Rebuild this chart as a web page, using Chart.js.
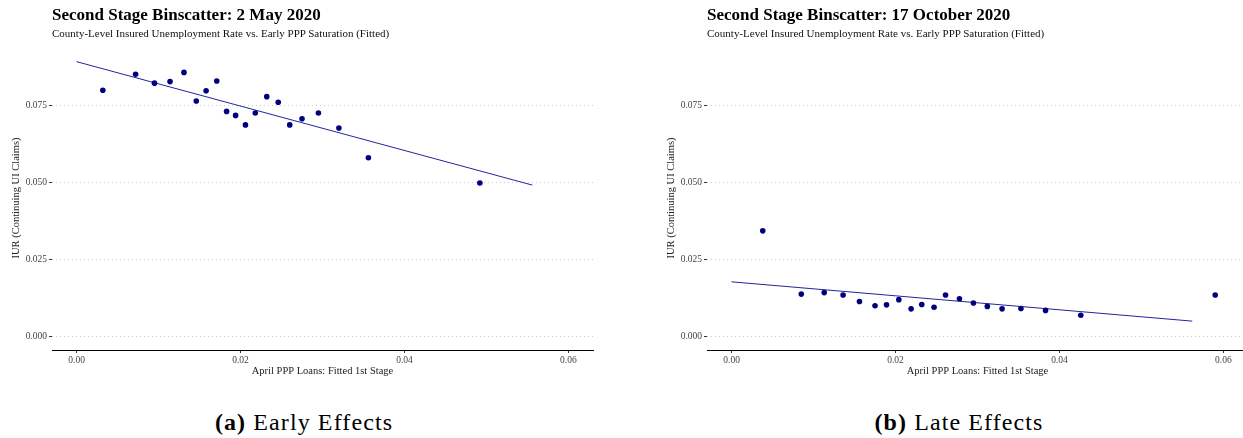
<!DOCTYPE html>
<html lang="en">
<head>
<meta charset="utf-8">
<title>Second Stage Binscatter</title>
<script src="https://cdn.jsdelivr.net/npm/chart.js@4.4.1/dist/chart.umd.min.js"></script>
<style>
  html, body { margin: 0; padding: 0; background: #fff; }
  #page { position: relative; width: 1243px; height: 438px; overflow: hidden; font-family: "Liberation Serif", serif; }
  .panel { position: absolute; top: 0; }
  .panel canvas { position: absolute; left: 0; top: 0; }
  .title { position: absolute; left: 52px; top: 5px; font-size: 17px; font-weight: bold; color: #000; white-space: nowrap; }
  .subtitle { position: absolute; left: 52px; top: 27px; font-size: 11px; color: #111; white-space: nowrap; }
  .caption { position: absolute; top: 409px; font-size: 24px; letter-spacing: 1.1px; color: #000; white-space: nowrap; transform: translateX(-50%); }
  .caption b { font-weight: bold; }
</style>
</head>
<body>
<div id="page">
  <div class="panel" style="left:0px">
    <canvas id="early" width="615" height="385"></canvas>
    <div class="title">Second Stage Binscatter: 2 May 2020</div>
    <div class="subtitle">County-Level Insured Unemployment Rate vs. Early PPP Saturation (Fitted)</div>
  </div>
  <div class="panel" style="left:655px">
    <canvas id="late" width="615" height="385"></canvas>
    <div class="title">Second Stage Binscatter: 17 October 2020</div>
    <div class="subtitle">County-Level Insured Unemployment Rate vs. Early PPP Saturation (Fitted)</div>
  </div>
  <div class="caption" style="left:304px"><b>(a)</b> Early Effects</div>
  <div class="caption" style="left:959px"><b>(b)</b> Late Effects</div>
</div>

<script>
// bins
const earlyX = [0.0032, 0.0072, 0.0095, 0.0114, 0.0131, 0.0146, 0.0158, 0.0171, 0.0183, 0.0194,
                0.0206, 0.0218, 0.0232, 0.0246, 0.0260, 0.0275, 0.0295, 0.0320, 0.0356, 0.0492];
const earlyY = [0.0801, 0.0853, 0.0824, 0.0829, 0.0859, 0.0766, 0.0799, 0.0831, 0.0732, 0.0719,
                0.0688, 0.0727, 0.0780, 0.0762, 0.0688, 0.0708, 0.0727, 0.0678, 0.0581, 0.0499];
const earlyFitX = [0.0000, 0.0556];
const earlyFitY = [0.0894, 0.0492];

const lateX = [0.0038, 0.0085, 0.0113, 0.0136, 0.0156, 0.0175, 0.0189, 0.0204, 0.0219, 0.0232,
               0.0247, 0.0261, 0.0278, 0.0295, 0.0312, 0.0330, 0.0353, 0.0383, 0.0426, 0.0590];
const lateY = [0.0343, 0.0137, 0.0142, 0.0134, 0.0113, 0.0099, 0.0102, 0.0119, 0.0089, 0.0103,
               0.0094, 0.0134, 0.0122, 0.0108, 0.0097, 0.0089, 0.0090, 0.0084, 0.0068, 0.0134];
const lateFitX = [0.0000, 0.0562];
const lateFitY = [0.0177, 0.0049];

const xTicks = [0.00, 0.02, 0.04, 0.06];
const yTicks = [0.000, 0.025, 0.050, 0.075];

const xTitle = "April PPP Loans: Fitted 1st Stage";
const yTitle = "IUR (Continuing UI Claims)";

const serif = "'Liberation Serif', serif";

function toPoints(xs, ys) {
  return xs.map((x, i) => ({ x: x, y: ys[i] }));
}

/**
 * Binscatter panel: points plus fitted line
 */
function renderPanel(id, xs, ys, fitX, fitY) {
  const ctx = document.getElementById(id).getContext("2d");
  new Chart(ctx, {
    type: "scatter",
    data: {
      datasets: [
        {
          data: toPoints(xs, ys),
          pointRadius: 2.8,
          pointBackgroundColor: "#00007f",
          pointBorderWidth: 0,
          showLine: false,
        },
        {
          data: toPoints(fitX, fitY),
          showLine: true,
          pointRadius: 0,
          borderColor: "#24249c",
          borderWidth: 1,
        },
      ],
    },
    options: {
      responsive: false,
      animation: false,
      events: [],
      layout: { padding: { left: 0, top: 46, right: 22, bottom: 0 } },
      plugins: { legend: { display: false }, tooltip: { enabled: false } },
      scales: {
        x: {
          type: "linear",
          min: -0.003,
          max: 0.063,
          afterBuildTicks: (s) => { s.ticks = xTicks.map((v) => ({ value: v })); },
          afterFit: (s) => { s.height = 35; },
          ticks: {
            callback: (v) => v.toFixed(2),
            color: "#444",
            font: { family: serif, size: 9.5 },
            padding: 2,
            maxRotation: 0,
          },
          grid: { drawOnChartArea: false, drawTicks: true, tickLength: 3, tickColor: "#333", tickWidth: 1 },
          border: { display: true, color: "#000", width: 1 },
          title: { display: true, text: xTitle, color: "#222", font: { family: serif, size: 10.5 }, padding: { top: 1, bottom: 7 } },
        },
        y: {
          type: "linear",
          min: -0.0045,
          max: 0.0945,
          afterBuildTicks: (s) => { s.ticks = yTicks.map((v) => ({ value: v })); },
          afterFit: (s) => { s.width = 52; },
          ticks: {
            callback: (v) => v.toFixed(3),
            color: "#444",
            font: { family: serif, size: 9.5 },
            padding: 2,
          },
          grid: { color: "#cccccc", lineWidth: 1, drawTicks: true, tickLength: 3, tickColor: "#333", tickWidth: 1 },
          border: { display: false, dash: [1, 3] },
          title: { display: true, text: yTitle, color: "#222", font: { family: serif, size: 10.5 }, padding: { top: 10, bottom: 2 } },
        },
      },
    },
  });
}

renderPanel("early", earlyX, earlyY, earlyFitX, earlyFitY);
renderPanel("late", lateX, lateY, lateFitX, lateFitY);
</script>
</body>
</html>
